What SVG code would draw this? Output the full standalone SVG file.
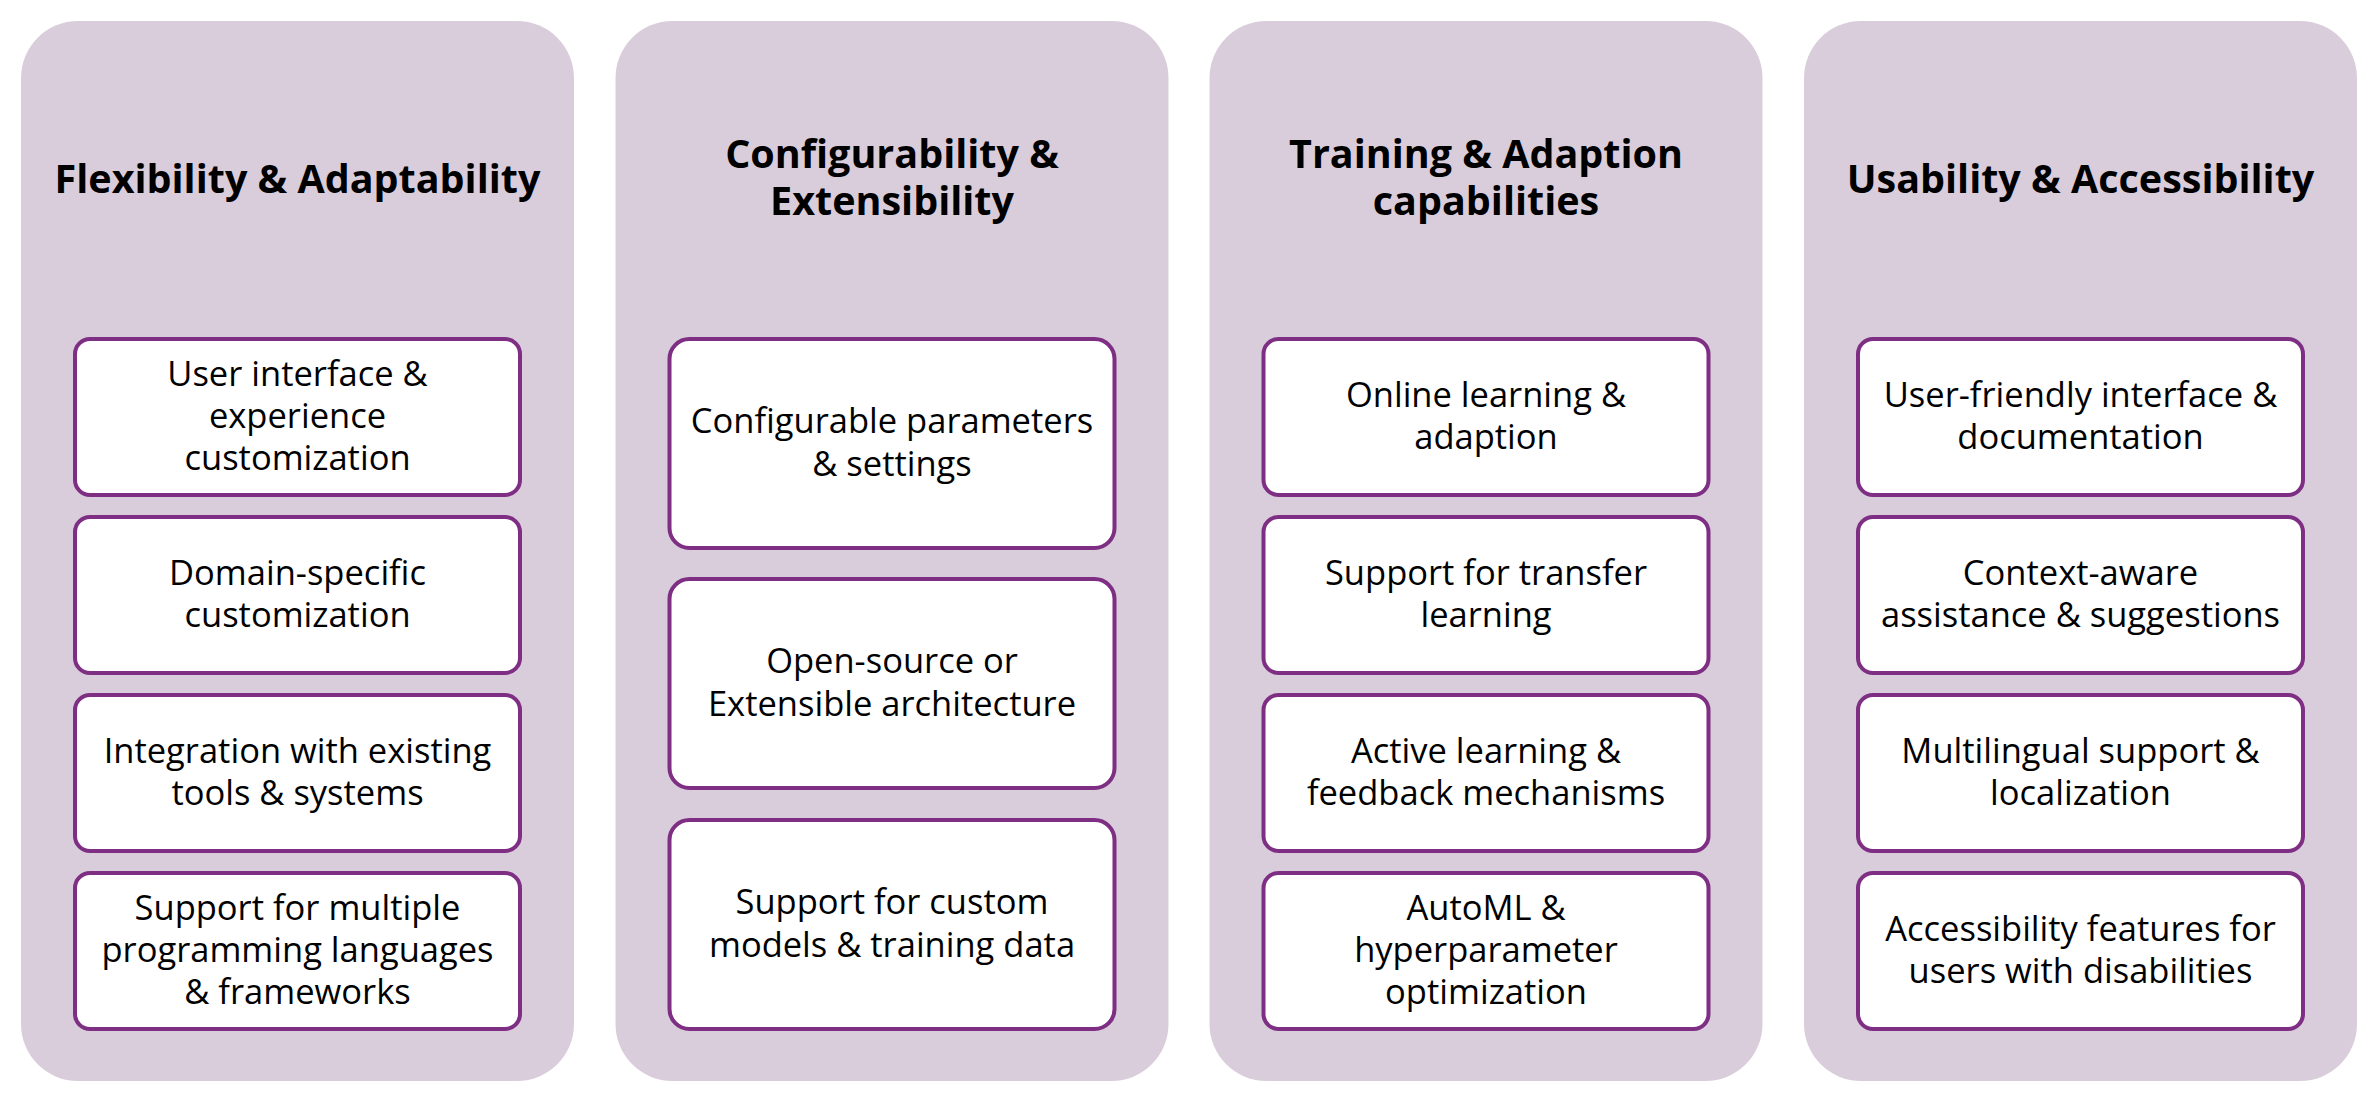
<svg xmlns="http://www.w3.org/2000/svg" width="2372" height="1104" viewBox="0 0 2372 1104">
<style>
.col{fill:#dacddb;}
.box{fill:#ffffff;stroke:#7e2f84;stroke-width:4;}
.title{font-family:"Open Sans","Liberation Sans",Arial,sans-serif;font-weight:bold;font-size:39.5px;fill:#000;text-anchor:middle;}
.txt{font-family:"Open Sans","Liberation Sans",Arial,sans-serif;font-size:34.5px;fill:#000;text-anchor:middle;}
</style>
<rect width="2372" height="1104" fill="#ffffff"/>
<g id="col1">
<rect class="col" x="21" y="21" width="553" height="1060" rx="57"/>
<text class="title" x="297.5" y="192.7">Flexibility &amp; Adaptability</text>
</g>
<g id="n1-1"><rect class="box" x="75" y="339" width="445" height="156" rx="15"/>
<text class="txt" x="297.5" y="385.6">User interface &amp;</text><text class="txt" x="297.5" y="428">experience</text><text class="txt" x="297.5" y="470.4">customization</text></g>
<g id="n1-2"><rect class="box" x="75" y="517" width="445" height="156" rx="15"/>
<text class="txt" x="297.5" y="584.8">Domain-specific</text><text class="txt" x="297.5" y="627.2">customization</text></g>
<g id="n1-3"><rect class="box" x="75" y="695" width="445" height="156" rx="15"/>
<text class="txt" x="297.5" y="762.8">Integration with existing</text><text class="txt" x="297.5" y="805.2">tools &amp; systems</text></g>
<g id="n1-4"><rect class="box" x="75" y="873" width="445" height="156" rx="15"/>
<text class="txt" x="297.5" y="919.6">Support for multiple</text><text class="txt" x="297.5" y="962">programming languages</text><text class="txt" x="297.5" y="1004.4">&amp; frameworks</text></g>

<g id="col2">
<rect class="col" x="615.5" y="21" width="553" height="1060" rx="57"/>
<text class="title" x="892" y="168">Configurability &amp;</text>
<text class="title" x="892" y="215">Extensibility</text>
</g>
<g id="n2-1"><rect class="box" x="669.5" y="339" width="445" height="209" rx="20"/>
<text class="txt" x="892" y="433.3">Configurable parameters</text><text class="txt" x="892" y="475.7">&amp; settings</text></g>
<g id="n2-2"><rect class="box" x="669.5" y="579" width="445" height="209" rx="20"/>
<text class="txt" x="892" y="673.3">Open-source or</text><text class="txt" x="892" y="715.7">Extensible architecture</text></g>
<g id="n2-3"><rect class="box" x="669.5" y="820" width="445" height="209" rx="20"/>
<text class="txt" x="892" y="914.3">Support for custom</text><text class="txt" x="892" y="956.7">models &amp; training data</text></g>

<g id="col3">
<rect class="col" x="1209.5" y="21" width="553" height="1060" rx="57"/>
<text class="title" x="1486" y="168">Training &amp; Adaption</text>
<text class="title" x="1486" y="215">capabilities</text>
</g>
<g id="n3-1"><rect class="box" x="1263.5" y="339" width="445" height="156" rx="15"/>
<text class="txt" x="1486" y="406.8">Online learning &amp;</text><text class="txt" x="1486" y="449.2">adaption</text></g>
<g id="n3-2"><rect class="box" x="1263.5" y="517" width="445" height="156" rx="15"/>
<text class="txt" x="1486" y="584.8">Support for transfer</text><text class="txt" x="1486" y="627.2">learning</text></g>
<g id="n3-3"><rect class="box" x="1263.5" y="695" width="445" height="156" rx="15"/>
<text class="txt" x="1486" y="762.8">Active learning &amp;</text><text class="txt" x="1486" y="805.2">feedback mechanisms</text></g>
<g id="n3-4"><rect class="box" x="1263.5" y="873" width="445" height="156" rx="15"/>
<text class="txt" x="1486" y="919.6">AutoML &amp;</text><text class="txt" x="1486" y="962">hyperparameter</text><text class="txt" x="1486" y="1004.4">optimization</text></g>

<g id="col4">
<rect class="col" x="1804" y="21" width="553" height="1060" rx="57"/>
<text class="title" x="2080.5" y="192.7">Usability &amp; Accessibility</text>
</g>
<g id="n4-1"><rect class="box" x="1858" y="339" width="445" height="156" rx="15"/>
<text class="txt" x="2080.5" y="406.8">User-friendly interface &amp;</text><text class="txt" x="2080.5" y="449.2">documentation</text></g>
<g id="n4-2"><rect class="box" x="1858" y="517" width="445" height="156" rx="15"/>
<text class="txt" x="2080.5" y="584.8">Context-aware</text><text class="txt" x="2080.5" y="627.2">assistance &amp; suggestions</text></g>
<g id="n4-3"><rect class="box" x="1858" y="695" width="445" height="156" rx="15"/>
<text class="txt" x="2080.5" y="762.8">Multilingual support &amp;</text><text class="txt" x="2080.5" y="805.2">localization</text></g>
<g id="n4-4"><rect class="box" x="1858" y="873" width="445" height="156" rx="15"/>
<text class="txt" x="2080.5" y="941">Accessibility features for</text><text class="txt" x="2080.5" y="983.4">users with disabilities</text></g>
<g id="connectors"></g>
</svg>
